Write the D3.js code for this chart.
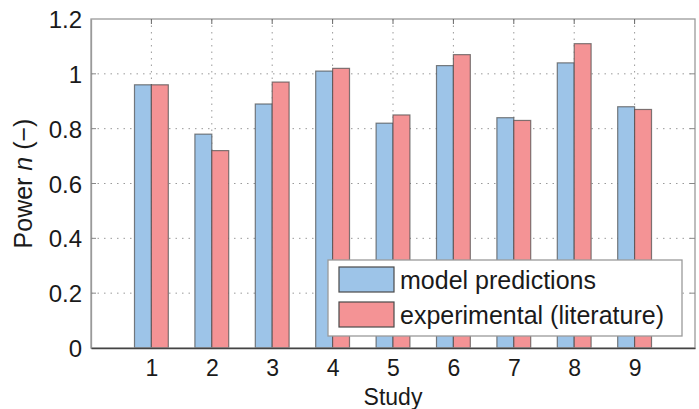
<!DOCTYPE html>
<html>
<head>
<meta charset="utf-8">
<script src="https://cdn.jsdelivr.net/npm/d3@7"></script>
<style>
  body { margin: 0; background: #fff; }
  text { font-family: "Liberation Sans", Arial, sans-serif; fill: #1a1a1a; }
</style>
</head>
<body>
<div id="chart"></div>
<script>
const studies = [1, 2, 3, 4, 5, 6, 7, 8, 9];
const modelValues = [0.96, 0.78, 0.89, 1.01, 0.82, 1.03, 0.84, 1.04, 0.88];
const experimentalValues = [0.96, 0.72, 0.97, 1.02, 0.85, 1.07, 0.83, 1.11, 0.87];
const yTicks = [0, 0.2, 0.4, 0.6, 0.8, 1, 1.2];
const seriesNames = ['model predictions', 'experimental (literature)'];
const seriesColors = ['#9dc4e8', '#f49395'];

const width = 699, height = 409;
const margin = { top: 19, right: 4, bottom: 61, left: 91 };
const innerW = width - margin.left - margin.right;
const innerH = height - margin.top - margin.bottom;

const svg = d3.select('#chart').append('svg')
  .attr('width', width)
  .attr('height', height);

const g = svg.append('g')
  .attr('transform', `translate(${margin.left},${margin.top})`);

const x = d3.scaleLinear().domain([0, 10]).range([0, innerW]);
const y = d3.scaleLinear().domain([0, 1.2]).range([innerH, 0]);
const barW = 0.28;

// grid
g.append('g').selectAll('line.hgrid')
  .data(yTicks.slice(1, -1))
  .enter().append('line')
  .attr('x1', 0).attr('x2', innerW)
  .attr('y1', d => y(d)).attr('y2', d => y(d))
  .style('stroke', '#9a9a9a')
  .style('stroke-width', 1)
  .style('stroke-dasharray', '1.5,5');

g.append('g').selectAll('line.vgrid')
  .data(studies)
  .enter().append('line')
  .attr('x1', d => x(d)).attr('x2', d => x(d))
  .attr('y1', 0).attr('y2', innerH)
  .style('stroke', '#9a9a9a')
  .style('stroke-width', 1)
  .style('stroke-dasharray', '1.5,5');

// bars
const series = [modelValues, experimentalValues];
series.forEach((vals, si) => {
  g.append('g').selectAll('rect')
    .data(studies)
    .enter().append('rect')
    .attr('x', d => x(si === 0 ? d - barW : d))
    .attr('width', x(barW) - x(0))
    .attr('y', (d, i) => y(vals[i]))
    .attr('height', (d, i) => y(0) - y(vals[i]))
    .style('fill', seriesColors[si])
    .style('stroke', '#4a4a4a')
    .style('stroke-opacity', 0.7)
    .style('stroke-width', 1.2);
});

// frame
g.append('rect')
  .attr('x', 0).attr('y', 0)
  .attr('width', innerW).attr('height', innerH)
  .style('fill', 'none')
  .style('stroke', '#9a9a9a')
  .style('stroke-width', 1.3);

// axes
const yAxis = g.append('g')
  .call(d3.axisLeft(y).tickValues(yTicks).tickFormat(d => d3.format('')(d)).tickSize(0).tickPadding(9));
yAxis.select('.domain').style('stroke', '#9a9a9a').style('stroke-width', 1.3);
yAxis.selectAll('text').style('font-size', '24px').attr('dy', '0.36em');

const xAxis = g.append('g')
  .attr('transform', `translate(0,${innerH})`)
  .call(d3.axisBottom(x).tickValues(studies).tickFormat(d3.format('d')).tickSize(0).tickPadding(12));
xAxis.select('.domain').style('stroke', '#444').style('stroke-width', 1.5);
xAxis.selectAll('text').style('font-size', '23px');

// small tick marks on axes (inside)
g.append('g').selectAll('line')
  .data(yTicks.slice(1, -1))
  .enter().append('line')
  .attr('x1', 0).attr('x2', 5)
  .attr('y1', d => y(d)).attr('y2', d => y(d))
  .style('stroke', '#888');
g.append('g').selectAll('line')
  .data(yTicks.slice(1, -1))
  .enter().append('line')
  .attr('x1', innerW - 5).attr('x2', innerW)
  .attr('y1', d => y(d)).attr('y2', d => y(d))
  .style('stroke', '#888');
g.append('g').selectAll('line')
  .data(studies)
  .enter().append('line')
  .attr('x1', d => x(d)).attr('x2', d => x(d))
  .attr('y1', 0).attr('y2', 5)
  .style('stroke', '#666');

// axis labels
svg.append('text')
  .attr('x', margin.left + innerW / 2)
  .attr('y', 405)
  .attr('text-anchor', 'middle')
  .style('font-size', '23px')
  .text('Study');

const yl = svg.append('text')
  .attr('transform', `translate(32,${margin.top + innerH / 2}) rotate(-90)`)
  .attr('text-anchor', 'middle')
  .style('font-size', '25px');
yl.append('tspan').text('Power ');
yl.append('tspan').style('font-style', 'italic').text('n');
yl.append('tspan').text(' (\u2212)');

// legend
const legend = svg.append('g').attr('transform', 'translate(328,260)');
legend.append('rect')
  .attr('width', 354).attr('height', 76)
  .style('fill', '#fff')
  .style('stroke', '#9a9a9a')
  .style('stroke-width', 1.3);
seriesNames.forEach((name, i) => {
  legend.append('rect')
    .attr('x', 11).attr('y', 7 + i * 35)
    .attr('width', 55).attr('height', 25)
    .style('fill', seriesColors[i])
    .style('stroke', '#4a4a4a')
    .style('stroke-width', 1.2);
  legend.append('text')
    .attr('x', 72).attr('y', 20 + i * 35)
    .attr('dy', '0.36em')
    .style('font-size', '25px')
    .text(name);
});
</script>
</body>
</html>
